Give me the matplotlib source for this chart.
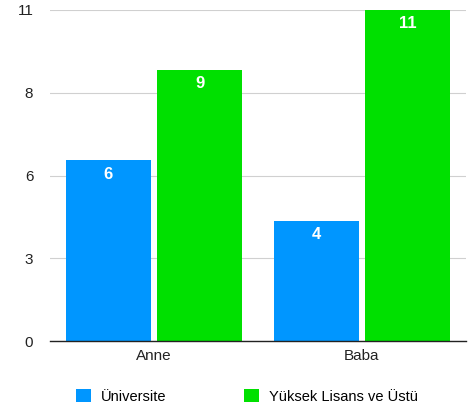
import matplotlib.pyplot as plt
import numpy as np

plt.rcParams['font.family'] = ['Liberation Sans', 'DejaVu Sans']

categories = ['Anne', 'Baba']
series_names = ['Üniversite', 'Yüksek Lisans ve Üstü']
universite = [6, 4]
yuksek_lisans = [9, 11]
y_ticks = [0, 2.75, 5.5, 8.25, 11]
y_tick_labels = ['0', '3', '6', '8', '11']

colors = ['#0096ff', '#00e000']

fig = plt.figure(figsize=(4.69, 4.15), dpi=100)
ax = fig.add_axes([0.1066, 0.178, 0.887, 0.798])

x = np.arange(len(categories))
width = 0.405
offset = 0.219

bars = []
for i, (vals, name) in enumerate(zip([universite, yuksek_lisans], series_names)):
    pos = x + (-offset if i == 0 else offset)
    b = ax.bar(pos, vals, width=width, color=colors[i], label=name, zorder=3)
    bars.append(b)
    for xi, v in zip(pos, vals):
        ax.text(xi, v - 0.45, str(v), ha='center', va='center', color='white',
                fontsize=12, fontweight='bold', zorder=4)

ax.set_xlim(-0.5, 1.5)
ax.set_ylim(0, 11)
ax.set_yticks(y_ticks)
ax.set_yticklabels(y_tick_labels)
ax.set_xticks(x)
ax.set_xticklabels(categories)
ax.tick_params(axis='both', length=0, labelsize=11, colors='#222222')
ax.tick_params(axis='y', pad=12)
ax.tick_params(axis='x', pad=6)
ax.grid(axis='y', color='#d0d0d0', linewidth=0.8, zorder=0)
for s in ['top', 'right', 'left']:
    ax.spines[s].set_visible(False)
ax.spines['bottom'].set_color('#222222')
ax.spines['bottom'].set_linewidth(1.0)
ax.spines['bottom'].set_zorder(5)

fig.legend(handles=bars, labels=series_names, loc='lower left',
           bbox_to_anchor=(0.135, -0.005), ncol=2, frameon=False, fontsize=10.5,
           handlelength=1.0, handleheight=1.0, columnspacing=5.3, handletextpad=0.7)

fig.savefig('out.png', dpi=100)
